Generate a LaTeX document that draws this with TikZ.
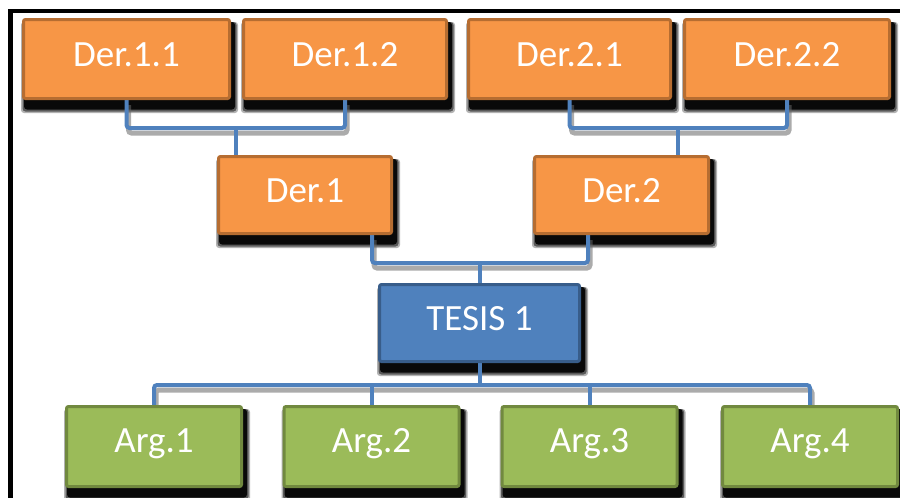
\documentclass[tikz,border=0pt]{standalone}
\usepackage{fontspec}
\setmainfont{Carlito}
\usetikzlibrary{backgrounds,calc}
\definecolor{orFill}{HTML}{F79646}
\definecolor{orLine}{HTML}{B66D31}
\definecolor{blFill}{HTML}{4F81BD}
\definecolor{blLine}{HTML}{385D8A}
\definecolor{grFill}{HTML}{9BBB59}
\definecolor{grLine}{HTML}{71893F}
\definecolor{link}{HTML}{4F81BD}
\tikzset{
  box/.style={draw, line width=3pt, rounded corners=2pt, text=white,
    font=\fontsize{37}{40}\selectfont, inner sep=0pt, text depth=10pt,
    text height=24pt},
  derbox/.style={box, fill=orFill, draw=orLine},
  tesbox/.style={box, fill=blFill, draw=blLine},
  argbox/.style={box, fill=grFill, draw=grLine, text depth=12pt},
  shadelayer/.style={fill=black, rounded corners=3pt},
  wire/.style={draw=link, line width=4pt, rounded corners=3pt},
  wireshade/.style={draw=black!60, line width=5pt, rounded corners=3pt,
    opacity=0.55, transform canvas={xshift=2pt, yshift=-5pt}}
}
\begin{document}
\begin{tikzpicture}[x=1pt, y=-1pt]
\useasboundingbox (0,0) rectangle (900,498);

% frame
\draw[black, line width=4.5pt] (10.5,498) -- (10.5,11) -- (900,11);

% upper row
\node[derbox, minimum width=206pt, minimum height=79pt] (d11) at (126.5,59) {Der.1.1};
\node[derbox, minimum width=203pt, minimum height=79pt] (d12) at (345,59) {Der.1.2};
\node[derbox, minimum width=202pt, minimum height=79pt] (d21) at (569.5,59) {Der.2.1};
\node[derbox, minimum width=205pt, minimum height=79pt] (d22) at (787,59) {Der.2.2};
% middle row
\node[derbox, minimum width=173pt, minimum height=77pt] (d1) at (305,195) {Der.1};
\node[derbox, minimum width=174pt, minimum height=77pt] (d2) at (621.5,195) {Der.2};
% thesis
\node[tesbox, minimum width=200pt, minimum height=77pt] (t1) at (479.5,323) {TESIS 1};
% arguments
\node[argbox, minimum width=175pt, minimum height=80pt] (a1) at (154,446.5) {Arg.1};
\node[argbox, minimum width=175pt, minimum height=80pt] (a2) at (371.5,446.5) {Arg.2};
\node[argbox, minimum width=175pt, minimum height=80pt] (a3) at (589.5,446.5) {Arg.3};
\node[argbox, minimum width=175pt, minimum height=80pt] (a4) at (810,446.5) {Arg.4};

% junction points
\coordinate (j1) at (235.5,128);
\coordinate (j2) at (678,128);
\coordinate (k1) at (372,263);
\coordinate (k2) at (588,263);
\coordinate (m) at (479.5,263);
\coordinate (n) at (479.5,385);

\begin{pgfonlayer}{background}
% soft drop shadows under every box, built from stacked layers
\foreach \b in {d11,d12,d21,d22,d1,d2,t1,a1,a2,a3,a4} {
  \path (\b.south west) coordinate (sw) (\b.north east) coordinate (ne);
  \fill[shadelayer, opacity=0.3]  ($(sw)+(-1,13)$) rectangle ($(ne)+(7,4)$);
  \fill[shadelayer, opacity=0.5]  ($(sw)+(0.5,11.5)$) rectangle ($(ne)+(5.5,4)$);
  \fill[shadelayer, opacity=0.9]  ($(sw)+(2,9.5)$) rectangle ($(ne)+(4,4)$);
}

% connector shading
\draw[wireshade] (d11.south) |- (j1) -| (d12.south);
\draw[wireshade] (d21.south) |- (j2) -| (d22.south);
\draw[wireshade] (d1.south -| k1) |- (m) -| (d2.south -| k2);
\draw[wireshade] (a1.north) |- (n) -| (a4.north);

% connectors
\draw[wire] (d11.south) |- (j1) -| (d12.south);
\draw[wire] (j1) -- (j1 |- d1.north);
\draw[wire] (d21.south) |- (j2) -| (d22.south);
\draw[wire] (j2) -- (j2 |- d2.north);
\draw[wire] (d1.south -| k1) |- (m) -| (d2.south -| k2);
\draw[wire] (m) -- (t1.north);
\draw[wire] (t1.south) -- (n);
\draw[wire] (a1.north) |- (n) -| (a4.north);
\draw[wire] (a2.north) -- (a2.north |- n);
\draw[wire] (a3.north) -- (a3.north |- n);
\end{pgfonlayer}
\end{tikzpicture}
\end{document}
